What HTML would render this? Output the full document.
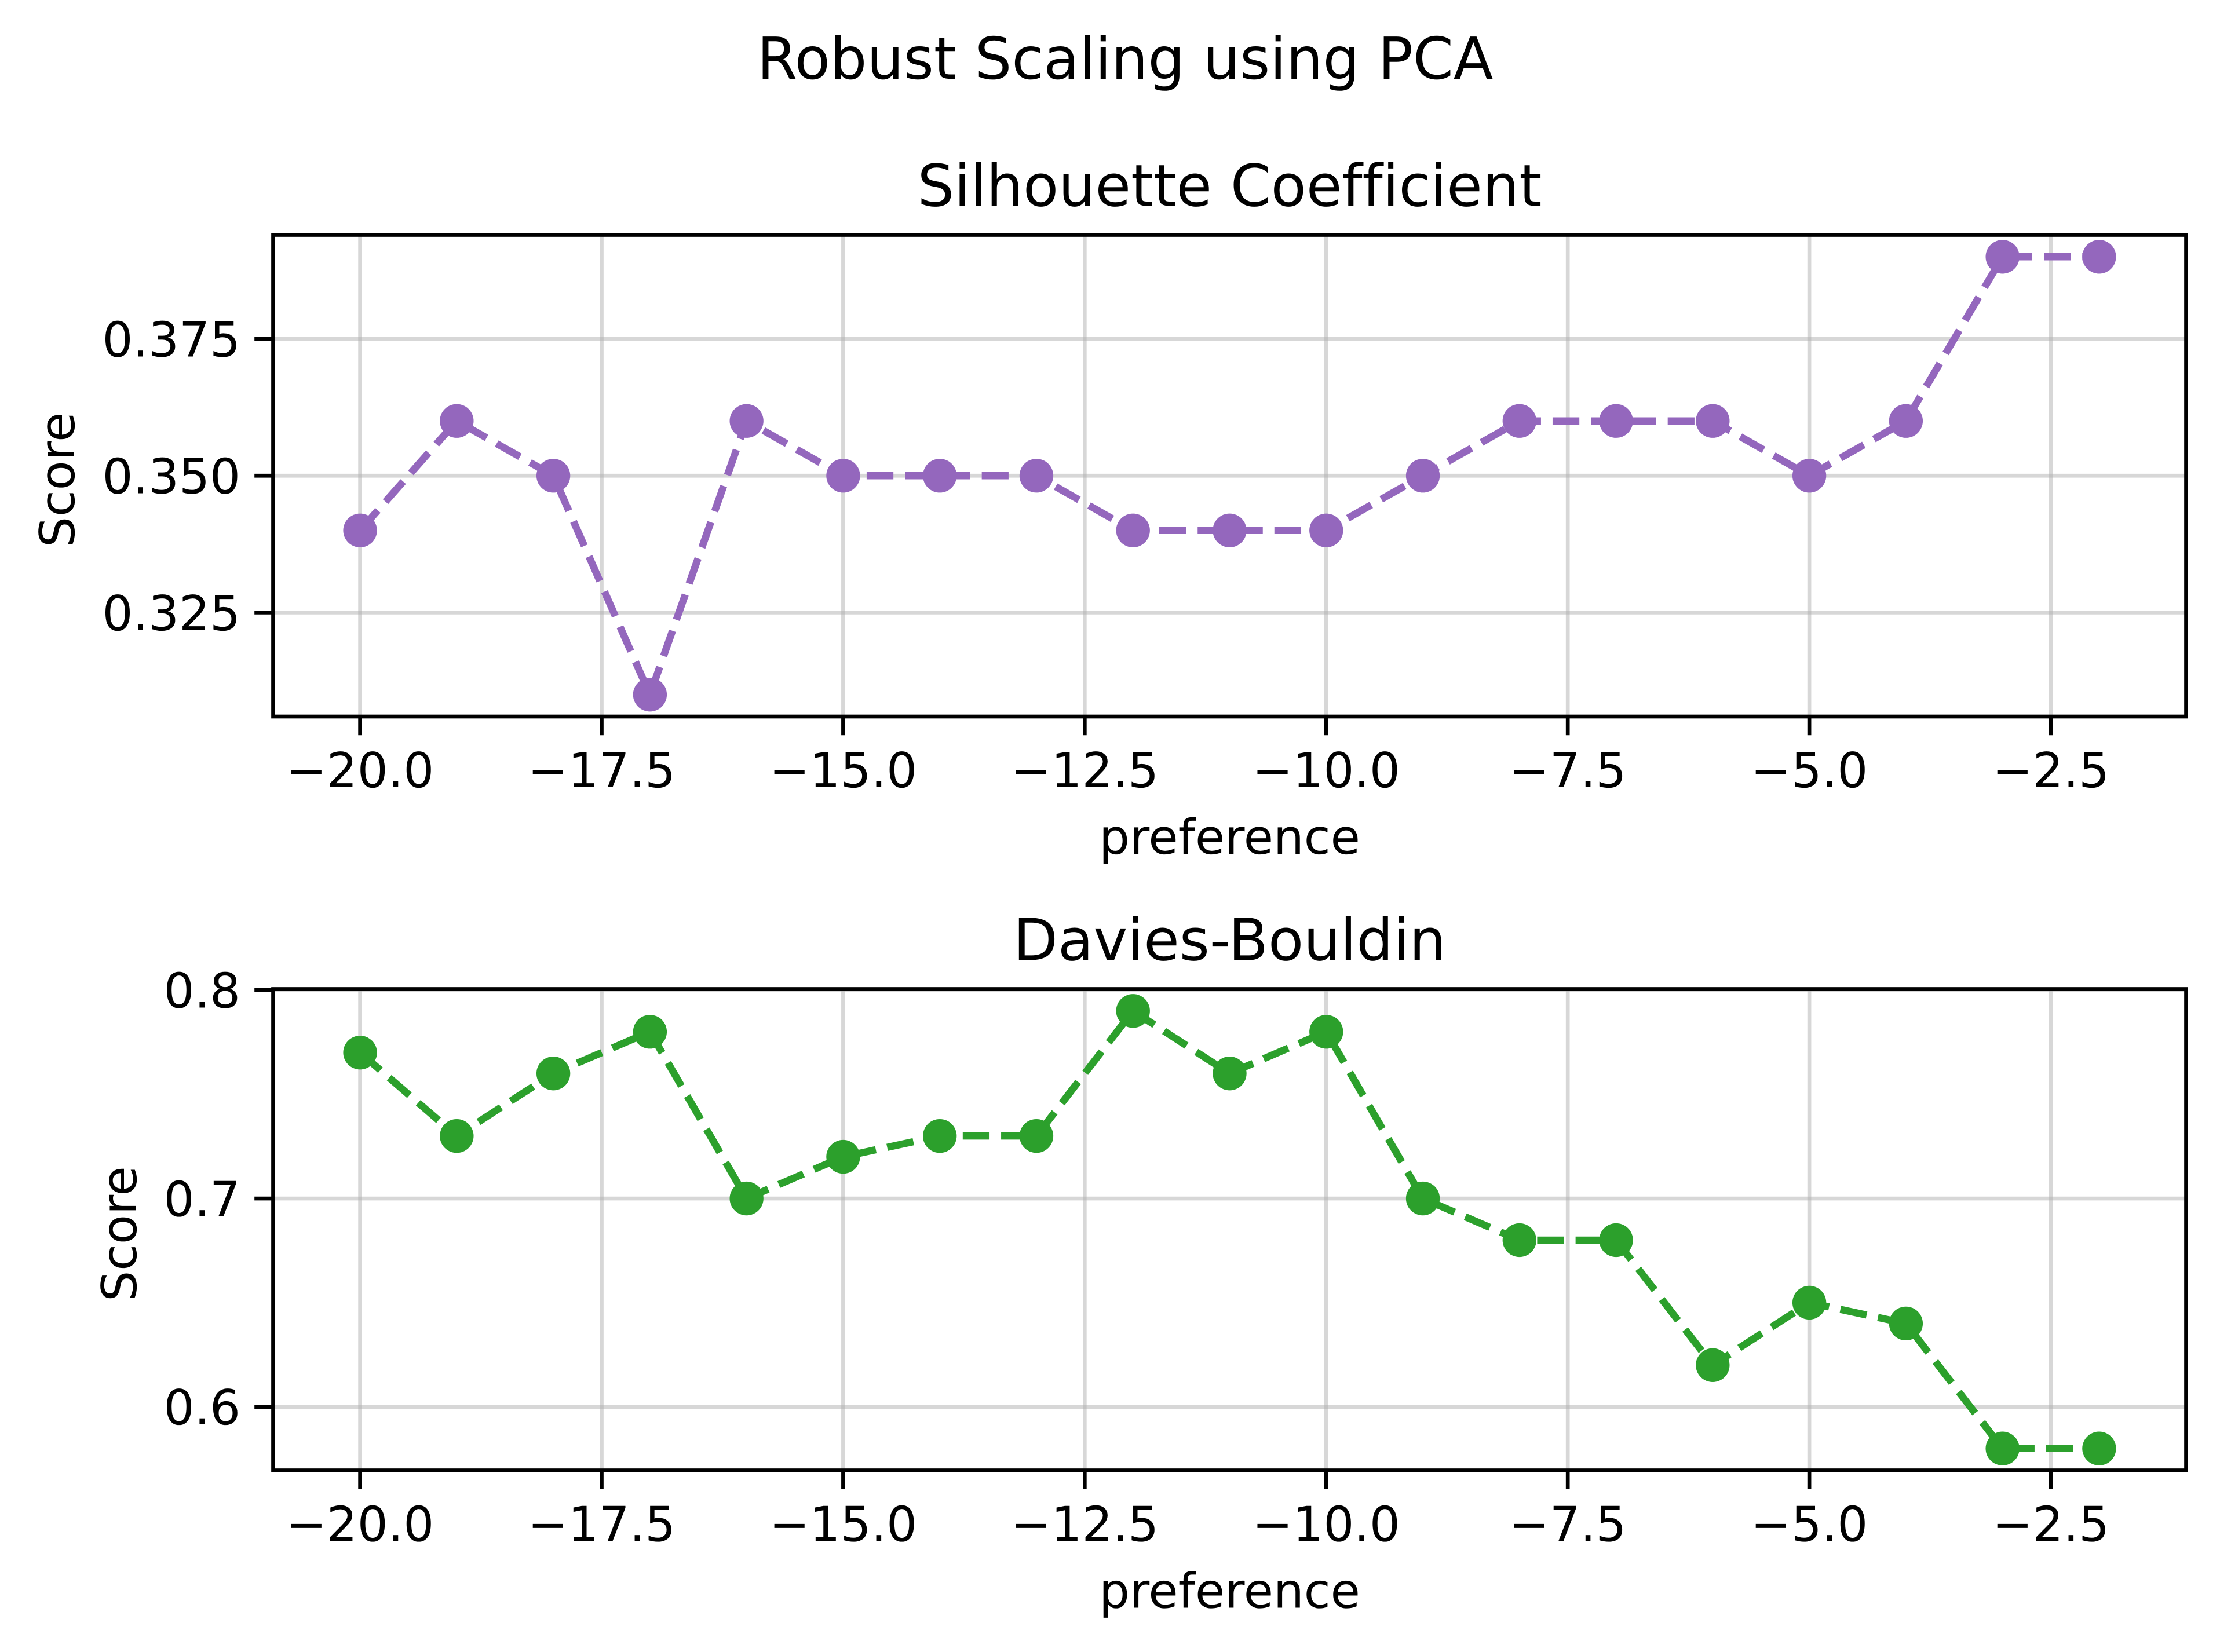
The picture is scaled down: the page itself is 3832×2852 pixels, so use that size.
<!DOCTYPE html>
<html lang="en">
<head>
<meta charset="utf-8">
<title>Robust Scaling using PCA</title>
<style>
html,body{margin:0;padding:0;background:#fff;width:3832px;height:2852px;overflow:hidden}
svg{display:block}
text{font-family:"DejaVu Sans","Liberation Sans",sans-serif;fill:#000;text-rendering:geometricPrecision;font-variant-ligatures:none}
</style>
</head>
<body>
<svg id="figure" xmlns="http://www.w3.org/2000/svg" width="3832" height="2852" viewBox="0 0 3832 2852">
  <rect x="0" y="0" width="3832" height="2852" fill="#ffffff"/>
  <text x="1942" y="136" font-size="100" text-anchor="middle">Robust Scaling using PCA</text>
</svg>
<script>
const preferences = [-20,-19,-18,-17,-16,-15,-14,-13,-12,-11,-10,-9,-8,-7,-6,-5,-4,-3,-2];
const silhouetteScores = [0.34,0.36,0.35,0.31,0.36,0.35,0.35,0.35,0.34,0.34,0.34,0.35,0.36,0.36,0.36,0.35,0.36,0.39,0.39];
const daviesBouldinScores = [0.77,0.73,0.76,0.78,0.70,0.72,0.73,0.73,0.79,0.76,0.78,0.70,0.68,0.68,0.62,0.65,0.64,0.58,0.58];
const xTickValues = [-20,-17.5,-15,-12.5,-10,-7.5,-5,-2.5];
const xTickLabels = ['\u221220.0','\u221217.5','\u221215.0','\u221212.5','\u221210.0','\u22127.5','\u22125.0','\u22122.5'];
const silhouetteTickValues = [0.325,0.35,0.375];
const silhouetteTickLabels = ['0.325','0.350','0.375'];
const daviesTickValues = [0.6,0.7,0.8];
const daviesTickLabels = ['0.6','0.7','0.8'];

const NS = 'http://www.w3.org/2000/svg';
const svg = document.getElementById('figure');

function make(parent, tag, attrs, text) {
  const el = document.createElementNS(NS, tag);
  for (const k in attrs) el.setAttribute(k, attrs[k]);
  if (text !== undefined) el.textContent = text;
  parent.appendChild(el);
  return el;
}

function extent(values) {
  const lo = Math.min.apply(null, values);
  const hi = Math.max.apply(null, values);
  const pad = (hi - lo) * 0.05;
  return [lo - pad, hi + pad];
}

function drawPanel(cfg) {
  const L = 471.5, R = 3773.5, T = cfg.top, B = cfg.bottom;
  const xDom = extent(preferences);
  const yDom = extent(cfg.values);
  const xScale = v => L + (v - xDom[0]) / (xDom[1] - xDom[0]) * (R - L);
  const yScale = v => B - (v - yDom[0]) / (yDom[1] - yDom[0]) * (B - T);
  const SW = 6.67, TICK = 29;

  const g = make(svg, 'g', {});
  
  

  xTickValues.forEach(v => {
    const x = xScale(v);
    const line = make(g, 'line', {x1:x, x2:x, y1:T, y2:B, stroke:'#b0b0b0', 'stroke-opacity':0.5, 'stroke-width':SW});
    
    
  });
  cfg.tickValues.forEach(v => {
    const y = yScale(v);
    const line = make(g, 'line', {x1:L, x2:R, y1:y, y2:y, stroke:'#b0b0b0', 'stroke-opacity':0.5, 'stroke-width':SW});
    
    
  });

  const pts = preferences.map((p, i) => xScale(p).toFixed(2) + ',' + yScale(cfg.values[i]).toFixed(2)).join(' ');
  const series = make(g, 'polyline', {points:pts, fill:'none', stroke:cfg.color, 'stroke-width':12.5, 'stroke-dasharray':'46.25 20', 'stroke-linejoin':'round', 'stroke-linecap':'butt'});
  
  

  preferences.forEach((p, i) => {
    const dot = make(g, 'circle', {cx:xScale(p), cy:yScale(cfg.values[i]), r:29.17, fill:cfg.color});
    
    
  });

  const frame = make(g, 'rect', {x:L, y:T, width:R-L, height:B-T, fill:'none', stroke:'#000', 'stroke-width':SW, 'stroke-linejoin':'miter'});
  
  

  xTickValues.forEach((v, i) => {
    const x = xScale(v);
    const tick = make(g, 'line', {x1:x, x2:x, y1:B, y2:B+TICK+3.3, stroke:'#000', 'stroke-width':SW});
    
    
    const label = make(g, 'text', {x:x, y:B+122, 'font-size':83.33, 'text-anchor':'middle'}, xTickLabels[i]);
    
    
  });
  cfg.tickValues.forEach((v, i) => {
    const y = yScale(v);
    const tick = make(g, 'line', {x1:L-TICK-3.3, x2:L, y1:y, y2:y, stroke:'#000', 'stroke-width':SW});
    
    
    const label = make(g, 'text', {x:L-56.5, y:y+30.4, 'font-size':83.33, 'text-anchor':'end'}, cfg.tickLabels[i]);
    
    
  });

  const cx = (L + R) / 2, cy = (T + B) / 2 + 7;
  const title = make(g, 'text', {x:cx, y:T-50, 'font-size':100, 'text-anchor':'middle'}, cfg.title);
  
  
  const xLabel = make(g, 'text', {x:cx, y:B+237, 'font-size':83.33, 'text-anchor':'middle'}, 'preference');
  
  
  const yLabel = make(g, 'text', {x:cfg.yLabelX, y:cy, 'font-size':83.33, 'text-anchor':'middle', transform:'rotate(-90 ' + cfg.yLabelX + ' ' + cy + ')'}, 'Score');
  
  
}

drawPanel({key:'silhouette', title:'Silhouette Coefficient', values:silhouetteScores, color:'#9467bd',
  tickValues:silhouetteTickValues, tickLabels:silhouetteTickLabels, top:405.5, bottom:1237, yLabelX:128});
drawPanel({key:'davies-bouldin', title:'Davies-Bouldin', values:daviesBouldinScores, color:'#2ca02c',
  tickValues:daviesTickValues, tickLabels:daviesTickLabels, top:1707.5, bottom:2538.5, yLabelX:235});
</script>
</body>
</html>
